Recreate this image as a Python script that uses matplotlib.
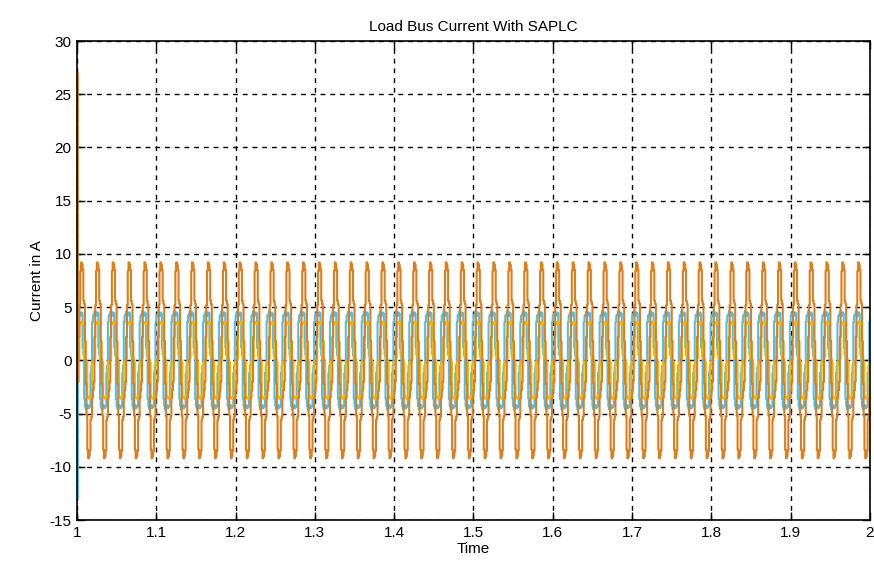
import numpy as np
import matplotlib
matplotlib.use("Agg")
import matplotlib.pyplot as plt
from matplotlib.ticker import FuncFormatter

sample_dt = 0.001
n_cycles = 50
t_start = 1.0

orange_cycle = [-2.0, 2.2, 5.2, 8.4, 9.2, 9.0, 8.5, 5.6, 5.3, 1.8,
                -2.2, -5.2, -8.4, -9.2, -9.0, -8.5, -5.6, -5.3, -3.5, -2.8]
blue_cycle = [4.3, 4.6, 4.4, 4.2, 4.5, 4.4, 1.2, 0.5, -3.6, -4.3,
              -4.6, -4.4, -4.2, -4.5, -4.4, -4.3, -1.2, -0.5, 3.6, 4.2]
yellow_cycle = [-0.1, 0.2, 3.4, 3.5, 3.6, 3.5, 3.4, 3.5, 0.3, 0.1,
                0.1, -0.2, -3.4, -3.5, -3.6, -3.5, -3.4, -3.5, -0.3, -0.1]

orange_start = 27.0
blue_start = -13.0
yellow_start = 0.0

yticks = [-15, -10, -5, 0, 5, 10, 15, 20, 25, 30]
xticks = [1.0, 1.1, 1.2, 1.3, 1.4, 1.5, 1.6, 1.7, 1.8, 1.9, 2.0]

# ---- build series ----
n = len(orange_cycle) * n_cycles
t = t_start + np.arange(n + 1) * sample_dt
orange = np.concatenate([[orange_start], np.tile(orange_cycle, n_cycles)])
blue = np.concatenate([[blue_start], np.tile(blue_cycle, n_cycles)])
yellow = np.concatenate([[yellow_start], np.tile(yellow_cycle, n_cycles)])

plt.rcParams['font.family'] = ['Liberation Sans', 'DejaVu Sans']

fig = plt.figure(figsize=(8.74, 5.72), dpi=100)
ax = fig.add_axes([0.0881, 0.0909, 0.9073, 0.8374])

ax.plot(t, blue, color='#4DBEEE', lw=1.5, drawstyle='steps-post', zorder=3)
ax.plot(t, yellow, color='#F2B705', lw=1.5, drawstyle='steps-post', zorder=4)
ax.plot(t, orange, color='#DD7E1C', lw=1.5, drawstyle='steps-post', zorder=5)

ax.set_xlim(1, 2)
ax.set_ylim(-15, 30)
ax.set_xticks(xticks)
ax.set_yticks(yticks)
ax.xaxis.set_major_formatter(FuncFormatter(lambda v, p: '%g' % round(v, 2)))
ax.yaxis.set_major_formatter(FuncFormatter(lambda v, p: '%g' % v))

ax.grid(True, color='black', linestyle=(0, (3.5, 3.5)), linewidth=1.0, zorder=1)
ax.set_axisbelow(True)
ax.tick_params(direction='in', top=True, right=True, length=6, width=1,
               labelsize=11, colors='black', pad=4)
for s in ax.spines.values():
    s.set_linewidth(1.2)
    s.set_color('black')
    s.set_zorder(6)

ax.set_title('Load Bus Current With SAPLC', fontsize=11, pad=7)
ax.set_xlabel('Time', fontsize=11, labelpad=2)
ax.set_ylabel('Current in A', fontsize=11, labelpad=4)

fig.savefig('out.png', dpi=100)
